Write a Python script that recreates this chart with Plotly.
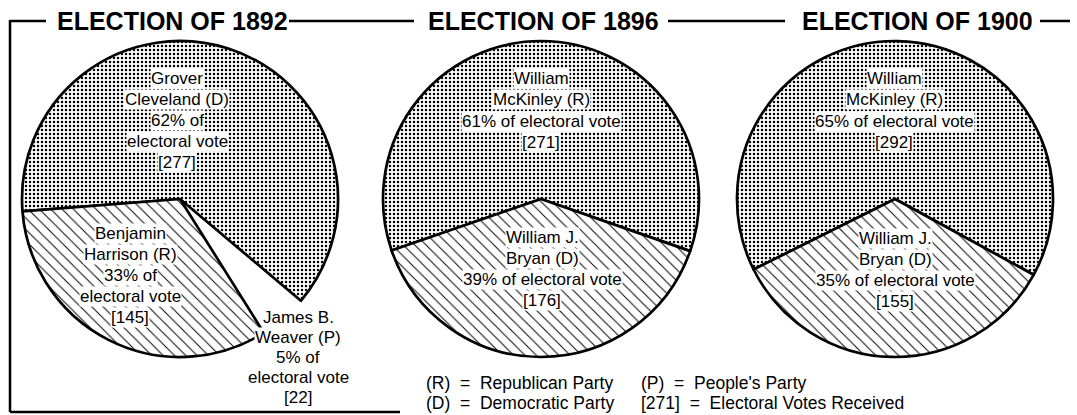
import plotly.graph_objects as go

# ---------------- data ----------------
years = ["1892", "1896", "1900"]

names_1892 = ["Grover Cleveland", "James B. Weaver", "Benjamin Harrison"]
parties_1892 = ["D", "P", "R"]
votes_1892 = [277, 22, 145]

names_1896 = ["William McKinley", "William J. Bryan"]
parties_1896 = ["R", "D"]
votes_1896 = [271, 176]

names_1900 = ["William McKinley", "William J. Bryan"]
parties_1900 = ["R", "D"]
votes_1900 = [292, 155]

legend_keys = ["(R)", "(D)", "(P)", "[271]"]
legend_vals = ["Republican Party", "Democratic Party", "People's Party", "Electoral Votes Received"]

# ---------------- layout / style ----------------
W, H = 1077, 415
FONT = "Liberation Sans, Arial, Helvetica, sans-serif"

def paper(x, y):
    return x / W, 1 - y / H

elections = {
    "1892": dict(names=names_1892, parties=parties_1892, votes=votes_1892),
    "1896": dict(names=names_1896, parties=parties_1896, votes=votes_1896),
    "1900": dict(names=names_1900, parties=parties_1900, votes=votes_1900),
}

# pie geometry in pixels (centre, radius, start angle clockwise from 12 o'clock)
# label anchors: (x centre, y of first line, line spacing), in data order
pie_geom = {
    "1892": dict(cx=180, cy=199, r=158, rotation=265.5, split_pct=True,
                 fills=["dots", "none", "hatch"],
                 labels=[(177, 78, 21.2), (298, 317, 20.2), (130, 233, 21)]),
    "1896": dict(cx=541, cy=199, r=158, rotation=251, split_pct=False,
                 fills=["dots", "hatch"],
                 labels=[(541, 78, 21.5), (542, 237, 21.3)]),
    "1900": dict(cx=895, cy=199, r=158, rotation=243.5, split_pct=False,
                 fills=["dots", "hatch"],
                 labels=[(894, 78, 21.5), (895, 238, 21.3)]),
}

title_pos = {"1892": (172, 21), "1896": (543, 21), "1900": (917, 21)}

fig = go.Figure()
annotations = []

for yr in years:
    d = elections[yr]
    g = pie_geom[yr]
    x0, y1 = paper(g["cx"] - g["r"], g["cy"] - g["r"])
    x1, y0 = paper(g["cx"] + g["r"], g["cy"] + g["r"])
    shapes_p, colors, lw, lc = [], [], [], []
    for f in g["fills"]:
        if f == "dots":
            shapes_p.append("."); colors.append("white"); lw.append(2.7); lc.append("black")
        elif f == "hatch":
            shapes_p.append("\\"); colors.append("white"); lw.append(2.7); lc.append("black")
        else:
            shapes_p.append(""); colors.append("rgba(0,0,0,0)"); lw.append(0); lc.append("rgba(0,0,0,0)")
    fig.add_trace(go.Pie(
        labels=[f"{n} ({p})" for n, p in zip(d["names"], d["parties"])],
        values=d["votes"],
        sort=False,
        direction="clockwise",
        rotation=g["rotation"],
        domain=dict(x=[x0, x1], y=[y0, y1]),
        textinfo="none",
        hoverinfo="label+value+percent",
        showlegend=False,
        marker=dict(
            colors=colors,
            line=dict(color=lc, width=lw),
            pattern=dict(shape=shapes_p, fgcolor="black", bgcolor="white",
                         size=[4 if s == "." else 8 for s in shapes_p],
                         solidity=[0.3 if s == "." else 0.12 for s in shapes_p],
                         fillmode="replace"),
        ),
    ))

    total = sum(d["votes"])
    for name, party, v, (lx, ly, sp) in zip(d["names"], d["parties"], d["votes"], g["labels"]):
        first, last = name.rsplit(" ", 1)
        pct = round(100 * v / total)
        lines = [first, f"{last} ({party})"]
        if g["split_pct"]:
            lines += [f"{pct}% of", "electoral vote"]
        else:
            lines += [f"{pct}% of electoral vote"]
        lines += [f"[{v}]"]
        for i, t in enumerate(lines):
            px_, py_ = paper(lx, ly + i * sp)
            annotations.append(dict(
                x=px_, y=py_, xref="paper", yref="paper", text=t, showarrow=False,
                xanchor="center", yanchor="middle", bgcolor="white", borderpad=0,
                font=dict(family=FONT, size=17, color="black"),
            ))

    tx, ty = paper(*title_pos[yr])
    annotations.append(dict(
        x=tx, y=ty, xref="paper", yref="paper", text=f"<b>ELECTION OF {yr}</b>",
        showarrow=False, xanchor="center", yanchor="middle",
        font=dict(family=FONT, size=25, color="black"),
    ))

# legend text
legend_pos = [(424, 383), (424, 403), (639, 383), (639, 403)]
for k, v, (lx, ly) in zip(legend_keys, legend_vals, legend_pos):
    px_, py_ = paper(lx, ly)
    annotations.append(dict(
        x=px_, y=py_, xref="paper", yref="paper",
        text=f"{k}\u00a0\u00a0=\u00a0\u00a0{v}", showarrow=False,
        xanchor="left", yanchor="middle",
        font=dict(family=FONT, size=17.5, color="black"),
    ))

# frame lines (bracket + title rules)
segs = [((10, 21), (46, 21)), ((289, 21), (414, 21)), ((668, 21), (785, 21)),
        ((1040, 21), (1070, 21)), ((10, 20), (10, 412)), ((10, 412), (400, 412))]
shapes = []
for (ax, ay), (bx, by) in segs:
    p0 = paper(ax, ay); p1 = paper(bx, by)
    shapes.append(dict(type="line", xref="paper", yref="paper",
                       x0=p0[0], y0=p0[1], x1=p1[0], y1=p1[1],
                       line=dict(color="black", width=2.5)))

fig.update_layout(
    width=W, height=H,
    margin=dict(l=0, r=0, t=0, b=0),
    paper_bgcolor="white", plot_bgcolor="white",
    annotations=annotations, shapes=shapes,
    font=dict(family=FONT),
)

fig.write_html(
    "out.html",
    config={"displayModeBar": False},
    post_script="document.body.style.margin='0';document.body.style.overflow='hidden';",
)
